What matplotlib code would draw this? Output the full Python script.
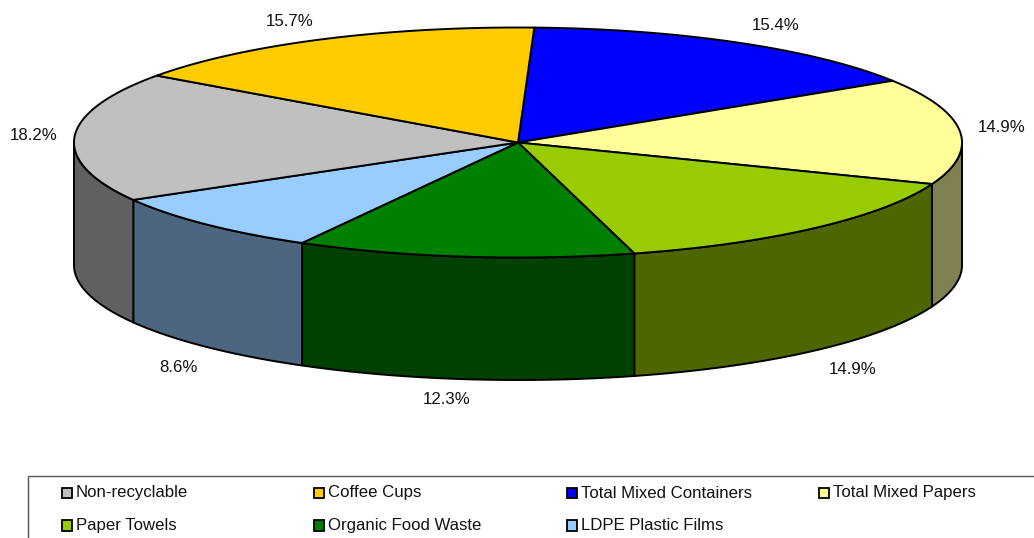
import numpy as np
from matplotlib import pyplot as plt
from matplotlib.patches import Rectangle

plt.rcParams['font.family'] = ['Liberation Sans', 'DejaVu Sans']

# clockwise from the first slice after 12 o'clock
names = ['Total Mixed Containers', 'Total Mixed Papers', 'Paper Towels',
         'Organic Food Waste', 'LDPE Plastic Films', 'Non-recyclable', 'Coffee Cups']
shares = [15.4, 14.9, 14.9, 12.3, 8.6, 18.2, 15.7]
top_colors = ['#0000ff', '#ffff99', '#99cc00', '#008000', '#99ccff', '#c0c0c0', '#ffcc00']
side_colors = ['#000080', '#808050', '#4d6600', '#004000', '#4d6680', '#606060', '#806600']
legend_order = ['Non-recyclable', 'Coffee Cups', 'Total Mixed Containers', 'Total Mixed Papers',
                'Paper Towels', 'Organic Food Waste', 'LDPE Plastic Films']

cx, cy = 518, 142.5
rx, ry = 444, 115
depth = 122.5
start = 2.1
label_xy = [(776, 25), (1002, 128), (853, 370), (447, 399), (178, 367), (34, 136), (290, 22)]

fig = plt.figure(figsize=(10.34, 5.38), dpi=100)
ax = fig.add_axes([0, 0, 1, 1])
ax.set_xlim(0, 1034)
ax.set_ylim(538, 0)
ax.axis('off')


def rim(a, b):
    t = np.radians(np.linspace(a, b, 200))
    return cx + rx * np.sin(t), cy - ry * np.cos(t)


edges = start + np.concatenate([[0], np.cumsum(shares)]) / np.sum(shares) * 360

# walls first, only the front half of the disc shows them
for i in range(len(shares)):
    a = max(edges[i], 90)
    b = min(edges[i + 1], 270)
    if b <= a:
        continue
    x, y = rim(a, b)
    wall_x = np.concatenate([x, x[::-1]])
    wall_y = np.concatenate([y, y[::-1] + depth])
    ax.fill(wall_x, wall_y, facecolor=side_colors[i], edgecolor='black', lw=1.4, joinstyle='round')

# top of the disc
for i in range(len(shares)):
    x, y = rim(edges[i], edges[i + 1])
    ax.fill(np.r_[cx, x], np.r_[cy, y], facecolor=top_colors[i], edgecolor='black', lw=1.4,
            joinstyle='round')

for i in range(len(shares)):
    ax.text(label_xy[i][0], label_xy[i][1], '%.1f%%' % shares[i], fontsize=12.1, color='#111111',
            ha='center', va='center')

# legend box runs off the right and bottom of the picture
ax.add_patch(Rectangle((27.5, 475.5), 1100, 100, facecolor='white', edgecolor='#555555', lw=1))
col_x = [61, 313, 566, 818]
row_y = [492.5, 525]
for k, name in enumerate(legend_order):
    i = names.index(name)
    x0 = col_x[k % 4]
    y0 = row_y[k // 4]
    ax.add_patch(Rectangle((x0 + 0.5, y0 - 5), 10.5, 10.5, facecolor=top_colors[i], edgecolor='black', lw=1.3))
    ax.text(x0 + 15, y0 + 0.5, name, fontsize=12.1, color='#111111', ha='left', va='center')

fig.savefig('out.png', dpi=100)
